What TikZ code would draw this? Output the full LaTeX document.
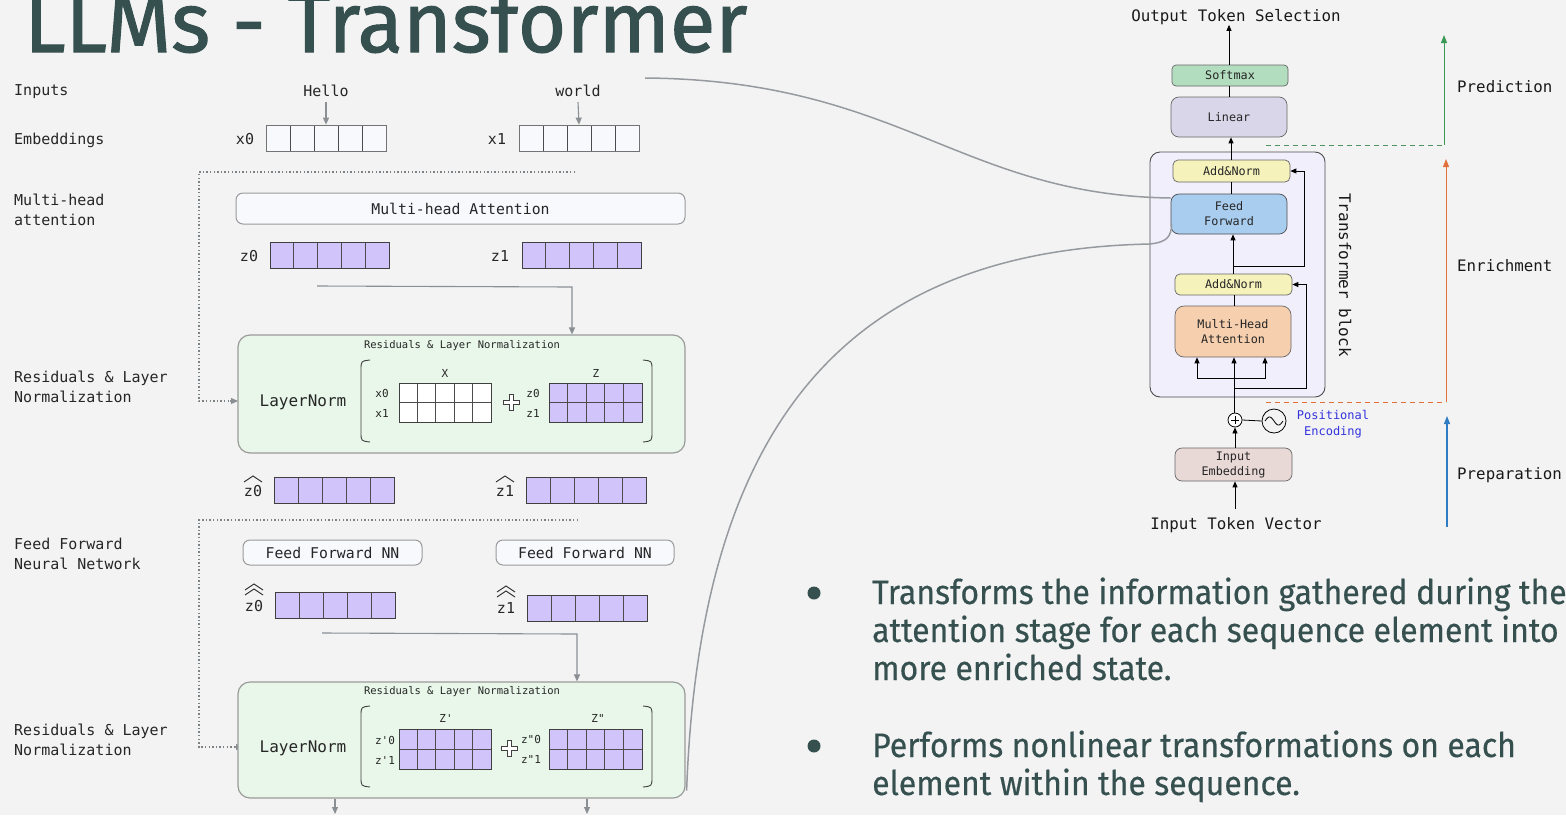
\documentclass[tikz,border=0pt]{standalone}
\usepackage{fontspec}
\setmainfont{Fira Sans}
\setmonofont{DejaVu Sans Mono}
\newfontfamily\titlefont{Fira Sans}[FakeStretch=0.98,FakeBold=1.2]
\newfontfamily\bodyfont{Fira Sans}[FakeStretch=0.94,FakeBold=0.4]
\usetikzlibrary{arrows.meta,calc}
\definecolor{bg}{HTML}{F3F3F3}
\definecolor{titlecol}{HTML}{35504F}
\definecolor{vecpurple}{HTML}{D1C4FA}
\definecolor{cellwhite}{HTML}{F7F9FC}
\definecolor{resgreen}{HTML}{E8F7E9}
\definecolor{boxgray}{HTML}{9A9A9A}
\definecolor{arrgray}{HTML}{8A8F94}
\definecolor{softmaxc}{HTML}{B3DDBF}
\definecolor{linearc}{HTML}{D9D6E9}
\definecolor{blockc}{HTML}{F1EFFC}
\definecolor{addnormc}{HTML}{F6F2BC}
\definecolor{ffc}{HTML}{A9CDEF}
\definecolor{mhac}{HTML}{F6CFAE}
\definecolor{inembc}{HTML}{E8D8D6}
\definecolor{posblue}{HTML}{3333DD}
\definecolor{predgreen}{HTML}{3A9A55}
\definecolor{enrorange}{HTML}{E2703A}
\definecolor{prepblue}{HTML}{2F7CC4}
\tikzset{
  lbl/.style={font=\ttfamily\fontsize{15}{20}\selectfont, text=black!85, anchor=west, align=left, inner sep=0},
  clbl/.style={font=\ttfamily\fontsize{15}{20}\selectfont, text=black!85, inner sep=0},
  slbl/.style={font=\ttfamily\fontsize{11}{13}\selectfont, text=black!85, inner sep=0},
  tlbl/.style={font=\ttfamily\fontsize{10.5}{12}\selectfont, text=black!85, inner sep=0},
  hat/.style={draw=black!85, line width=0.9pt},
  vcells/.style={path picture={
    \foreach \i in {1,2,3,4}{
      \draw[black!70, line width=0.8pt] ($(path picture bounding box.north west)!\i/5!(path picture bounding box.north east)$) -- ($(path picture bounding box.south west)!\i/5!(path picture bounding box.south east)$);}
  }},
  mcells/.style={path picture={
    \foreach \i in {1,2,3,4}{
      \draw[black!70, line width=0.8pt] ($(path picture bounding box.north west)!\i/5!(path picture bounding box.north east)$) -- ($(path picture bounding box.south west)!\i/5!(path picture bounding box.south east)$);}
    \draw[black!70, line width=0.8pt] (path picture bounding box.west) -- (path picture bounding box.east);
  }},
  vecw/.style={draw=black!55, line width=0.8pt, fill=cellwhite, minimum width=120pt, minimum height=26pt, inner sep=0, vcells},
  vecp/.style={draw=black!75, line width=0.8pt, fill=vecpurple, minimum width=120pt, minimum height=26pt, inner sep=0, vcells},
  matw/.style={draw=black!75, line width=0.8pt, fill=white, minimum width=92pt, minimum height=39pt, inner sep=0, mcells},
  matp/.style={draw=black!75, line width=0.8pt, fill=vecpurple, minimum width=93pt, minimum height=39pt, inner sep=0, mcells},
  lbox/.style={draw=boxgray, line width=1pt, fill=cellwhite, rounded corners=7pt, inner sep=0, font=\ttfamily\fontsize{14.8}{18}\selectfont, text=black!85},
  resbox/.style={draw=boxgray, line width=1.2pt, fill=resgreen, rounded corners=12pt, inner sep=0},
  garrow/.style={draw=arrgray, line width=1.1pt, -{Triangle[length=7pt,width=6pt]}},
  dotline/.style={draw=arrgray!90!black, line width=1.4pt, dash pattern=on 1.4pt off 2.2pt},
  curve/.style={draw=arrgray!90, line width=1.5pt},
  rbox/.style={draw=black!60, line width=0.7pt, rounded corners=5pt, inner sep=0, align=center, font=\ttfamily\fontsize{11.8}{15}\selectfont, text=black!85},
  barrow/.style={draw=black, line width=0.8pt, -{Triangle[length=6pt,width=5pt]}},
  bline/.style={draw=black, line width=0.8pt},
  stagel/.style={font=\ttfamily\fontsize{15.8}{18}\selectfont, text=black!90, anchor=west, inner sep=0},
  bul/.style={font=\bodyfont\fontsize{34}{38}\selectfont, text=titlecol, anchor=base west, inner sep=0},
}
\begin{document}
\begin{tikzpicture}[x=1pt,y=-1pt]
\useasboundingbox[fill=bg] (0,0) rectangle (1566,815);

% title
\node[anchor=base west, font=\titlefont\fontsize{85}{85}\selectfont, text=titlecol, inner sep=0] (title) at (24,52) {LLMs - Transformer};

% left labels
\node[lbl] (lInputs) at (14,92) {Inputs};
\node[lbl] (lEmb) at (14,140) {Embeddings};
\node[lbl] (lMHA) at (14,210) {Multi-head\\attention};
\node[lbl] (lRes1) at (14,387) {Residuals \& Layer\\Normalization};
\node[lbl] (lFF) at (14,554) {Feed Forward\\Neural Network};
\node[lbl] (lRes2) at (14,740) {Residuals \& Layer\\Normalization};

% inputs / embeddings
\node[clbl] (hello) at (326,91) {Hello};
\node[clbl] (world) at (578,91) {world};
\node[vecw] (x0v) at (326,138) {};
\node[vecw] (x1v) at (579,138) {};
\node[clbl] (x0l) at (245,139) {x0};
\node[clbl] (x1l) at (497,139) {x1};
\draw[garrow] ([yshift=-5pt]hello.south) -- (x0v.north);
\draw[garrow] ([yshift=-5pt]world.south) -- (x1v.north);

% dotted bracket 1
\coordinate (d1a) at (575,172);
\coordinate (d1b) at (199,172);
\draw[dotline] (d1a) -- (d1b) -- (199,401) -- (230,401);
\draw[draw=arrgray, line width=1.1pt, -{Triangle[length=7pt,width=6pt]}] (230,401) -- (238,401);

% multi-head attention
\node[lbox, minimum width=449pt, minimum height=31pt] (mhab) at (460.5,208.5) {Multi-head Attention};
\node[vecp, minimum width=119pt] (z0v) at (329.5,255) {};
\node[vecp, minimum width=119pt] (z1v) at (581.5,255) {};
\node[clbl] (z0l) at (249,256) {z0};
\node[clbl] (z1l) at (500,256) {z1};

% residual box 1
\node[resbox, minimum width=447pt, minimum height=118pt] (res1) at (461.5,394) {};
\coordinate (c1a) at (317,286);
\coordinate (c1b) at (572,287);
\draw[garrow] (c1a) -- (c1b) -- (c1b |- res1.north);
\node[tlbl] (r1t) at (462,346) {Residuals \& Layer Normalization};
\node[font=\ttfamily\fontsize{16}{18}\selectfont, text=black!85, inner sep=0] (ln1) at (303,402) {LayerNorm};
\draw[black!75, line width=0.9pt] (370,360) .. controls (361,361) .. (361,370) -- (361,432) .. controls (361,441) .. (370,442);
\draw[black!75, line width=0.9pt] (643,360) .. controls (652,361) .. (652,370) -- (652,432) .. controls (652,441) .. (643,442);
\node[matw] (Xm) at (445,402.5) {};
\node[matp] (Zm) at (595.5,402.5) {};
\node[slbl] (Xl) at (445,373) {X};
\node[slbl] (Zl) at (596,373) {Z};
\node[slbl] at (382,393) (x0r) {x0};
\node[slbl] at (382,413) (x1r) {x1};
\node[slbl] at (533,393) (z0r) {z0};
\node[slbl] at (533,413) (z1r) {z1};
\draw[black!75, line width=0.8pt, fill=white, shift={(511,402)}] (-2,-8) -- (2,-8) -- (2,-2) -- (8,-2) -- (8,2) -- (2,2) -- (2,8) -- (-2,8) -- (-2,2) -- (-8,2) -- (-8,-2) -- (-2,-2) -- cycle;

% hat z
\node[clbl] (hz0l) at (253,491) {z0};
\node[clbl] (hz1l) at (505,491) {z1};
\draw[hat] (244,482) -- (253,476) -- (262,482);
\draw[hat] (496,482) -- (505,476) -- (514,482);
\node[vecp] (hz0v) at (334,490) {};
\node[vecp] (hz1v) at (586,490) {};

% dotted bracket 2
\coordinate (d2a) at (578,520);
\coordinate (d2b) at (199,520);
\draw[dotline] (d2a) -- (d2b) -- (199,747) -- (235,747);
\draw[draw=arrgray, line width=1.1pt, -{Triangle[length=7pt,width=6pt]}] (235,747) -- (243,747);

% feed forward
\node[lbox, minimum width=179pt, minimum height=25pt] (ff0) at (332.5,552.5) {Feed Forward NN};
\node[lbox, minimum width=178pt, minimum height=25pt] (ff1) at (585,552.5) {Feed Forward NN};
\node[clbl] (hhz0l) at (254,606) {z0};
\node[clbl] (hhz1l) at (506,608) {z1};
\draw[hat] (245,595) -- (254,589) -- (263,595);
\draw[hat] (245,590) -- (254,584) -- (263,590);
\draw[hat] (497,597) -- (506,591) -- (515,597);
\draw[hat] (497,592) -- (506,586) -- (515,592);
\node[vecp] (hhz0v) at (335,605) {};
\node[vecp] (hhz1v) at (587,608) {};

% residual box 2
\node[resbox, minimum width=447pt, minimum height=116pt] (res2) at (461.5,740) {};
\coordinate (c2a) at (322,633);
\coordinate (c2b) at (577,634);
\draw[garrow] (c2a) -- (c2b) -- (c2b |- res2.north);
\node[tlbl] (r2t) at (462,692) {Residuals \& Layer Normalization};
\node[font=\ttfamily\fontsize{16}{18}\selectfont, text=black!85, inner sep=0] (ln2) at (303,748) {LayerNorm};
\draw[black!75, line width=0.9pt] (370,706) .. controls (361,707) .. (361,716) -- (361,777) .. controls (361,786) .. (370,787);
\draw[black!75, line width=0.9pt] (643,706) .. controls (652,707) .. (652,716) -- (652,777) .. controls (652,786) .. (643,787);
\node[matp, minimum width=92pt, minimum height=40pt] (Zpm) at (445,749) {};
\node[matp, minimum height=40pt] (Zppm) at (595.5,749) {};
\node[slbl] (Zpl) at (446,718) {Z'};
\node[slbl] (Zppl) at (598,718) {Z"};
\node[slbl] at (385,740) (zp0) {z'0};
\node[slbl] at (385,760) (zp1) {z'1};
\node[slbl] at (531,739) (zpp0) {z"0};
\node[slbl] at (531,759) (zpp1) {z"1};
\draw[black!75, line width=0.8pt, fill=white, shift={(509,748)}] (-2,-8) -- (2,-8) -- (2,-2) -- (8,-2) -- (8,2) -- (2,2) -- (2,8) -- (-2,8) -- (-2,2) -- (-8,2) -- (-8,-2) -- (-2,-2) -- cycle;
\coordinate (o1) at (335,814);
\coordinate (o2) at (587,814);
\draw[garrow] (res2.south -| o1) -- (o1);
\draw[garrow] (res2.south -| o2) -- (o2);

% ---------- right diagram ----------
\node[font=\ttfamily\fontsize{15.8}{18}\selectfont, text=black!90, inner sep=2pt] (outsel) at (1236,17) {Output Token Selection};
\node[rbox, fill=softmaxc, minimum width=116pt, minimum height=21pt, rounded corners=4pt] (softmax) at (1230,75.5) {Softmax};
\node[rbox, fill=linearc, minimum width=116pt, minimum height=40pt, rounded corners=8pt] (linear) at (1229,117) {Linear};
\node[draw=black!70, line width=0.9pt, fill=blockc, rounded corners=10pt, minimum width=175pt, minimum height=245pt, inner sep=0] (block) at (1237.5,274.5) {};
\node[font=\ttfamily\fontsize{16}{18}\selectfont, text=black!90, rotate=-90, inner sep=0] (tblock) at (1345,275) {Transformer block};
\node[rbox, fill=addnormc, minimum width=117pt, minimum height=22pt] (an2) at (1231.5,171) {Add\&Norm};
\node[rbox, fill=ffc, draw=black!70, minimum width=116pt, minimum height=40pt, rounded corners=8pt] (ff) at (1229,214) {Feed\\Forward};
\node[rbox, fill=addnormc, minimum width=117pt, minimum height=21pt] (an1) at (1233.5,284.5) {Add\&Norm};
\node[rbox, fill=mhac, minimum width=116pt, minimum height=51pt, rounded corners=9pt] (mha) at (1233,331.5) {Multi-Head\\Attention};
\node[draw=black, line width=0.8pt, fill=white, circle, minimum size=14pt, inner sep=0] (plus) at (1235,420) {};
\draw[black, line width=0.9pt] (1231,420) -- (1239,420) (1235,416) -- (1235,424);
\node[draw=black, line width=0.8pt, circle, minimum size=24pt, inner sep=0] (sine) at (1274,421) {};
\draw[black, line width=0.8pt] plot[domain=-9:9, samples=30] ({1274+\x},{421+4*sin(\x*20)});
\node[font=\ttfamily\fontsize{12}{16}\selectfont, text=posblue, align=center, inner sep=0] (posenc) at (1333,424) {Positional\\Encoding};
\node[rbox, fill=inembc, minimum width=117pt, minimum height=33pt, rounded corners=7pt] (inemb) at (1233.5,464.5) {Input\\Embedding};
\node[font=\ttfamily\fontsize{15.8}{18}\selectfont, text=black!90, inner sep=0] (intok) at (1236,525) {Input Token Vector};

\draw[barrow] (softmax.north -| linear) -- ([yshift=2pt]outsel.south -| linear);
\draw[bline] (softmax.south -| linear) -- (linear.north);
\draw[barrow] (block.north -| 1231,0) -- (linear.south -| 1231,0);
\draw[bline] (an2.north -| 1231,0) -- (block.north -| 1231,0);
\draw[bline] (ff.north -| 1231,0) -- (an2.south -| 1231,0);
\draw[barrow] (an1.north -| 1233,0) -- (ff.south -| 1233,0);
\draw[bline] (mha.north -| 1234,0) -- (an1.south -| 1234,0);
\coordinate (r2) at (1233,266);
\draw[barrow] (r2) -| ([xshift=14pt]an2.east) -- (an2.east);
\coordinate (mi) at (1234,378);
\coordinate (r1) at (1234,388);
\draw[bline] (plus.north -| mi) -- (mi);
\draw[barrow] (mi) -- (mi |- mha.south);
\draw[barrow] (mi) -| ([xshift=-36pt]mha.south);
\draw[barrow] (mi) -| ([xshift=32pt]mha.south);
\draw[barrow] (r1) -| ([xshift=14pt]an1.east) -- (an1.east);
\draw[bline] (plus.east) -- (sine.west);
\draw[barrow] (inemb.north -| plus) -- (plus.south);
\draw[barrow] ([yshift=8pt]intok.north -| plus) -- (inemb.south -| plus);

% stage markers
\coordinate (gd) at (1266,145);
\coordinate (ga) at (1444,35);
\draw[draw=predgreen!70!gray, line width=1pt, dash pattern=on 5pt off 4pt] (gd) -- (gd -| ga);
\draw[draw=predgreen, line width=1pt, -{Triangle[length=8pt,width=6pt]}] (gd -| ga) -- (ga);
\coordinate (od) at (1266,402);
\coordinate (oa) at (1446,159);
\draw[draw=enrorange, line width=1pt, dash pattern=on 5pt off 4pt] (od) -- (od -| oa);
\draw[draw=enrorange, line width=1pt, -{Triangle[length=8pt,width=6pt]}] (od -| oa) -- (oa);
\coordinate (bd) at (1447,527);
\coordinate (ba) at (1447,416);
\draw[draw=prepblue, line width=1.2pt, -{Triangle[length=8pt,width=6pt]}] (bd) -- (ba);
\node[stagel] (pred) at (1457,87) {Prediction};
\node[stagel] (enr) at (1457,266) {Enrichment};
\node[stagel] (prep) at (1457,475) {Preparation};

% curves
\coordinate (cs1) at (645,78);
\draw[curve] (cs1) .. controls (900,80) and (960,195) .. ($(ff.west)+(0,-16)$);
\draw[curve] ($(res2.south east)+(1,-8)$) .. controls (700,420) and (850,250) .. (1150,244) .. controls (1168,242) and (1171,236) .. ($(ff.south west)+(1,-10)$);

% bullets
\node[circle, fill=titlecol, minimum size=13pt, inner sep=0] (dot1) at (814,593) {};
\node[circle, fill=titlecol, minimum size=13pt, inner sep=0] (dot2) at (814,746) {};
\node[bul] (b1a) at (872,604) {Transforms the information gathered during the};
\node[bul] (b1b) at (872,642) {attention stage for each sequence element into};
\node[bul] (b1c) at (872,680) {more enriched state.};
\node[bul] (b2a) at (872,757) {Performs nonlinear transformations on each};
\node[bul] (b2b) at (872,795) {element within the sequence.};
\end{tikzpicture}
\end{document}
